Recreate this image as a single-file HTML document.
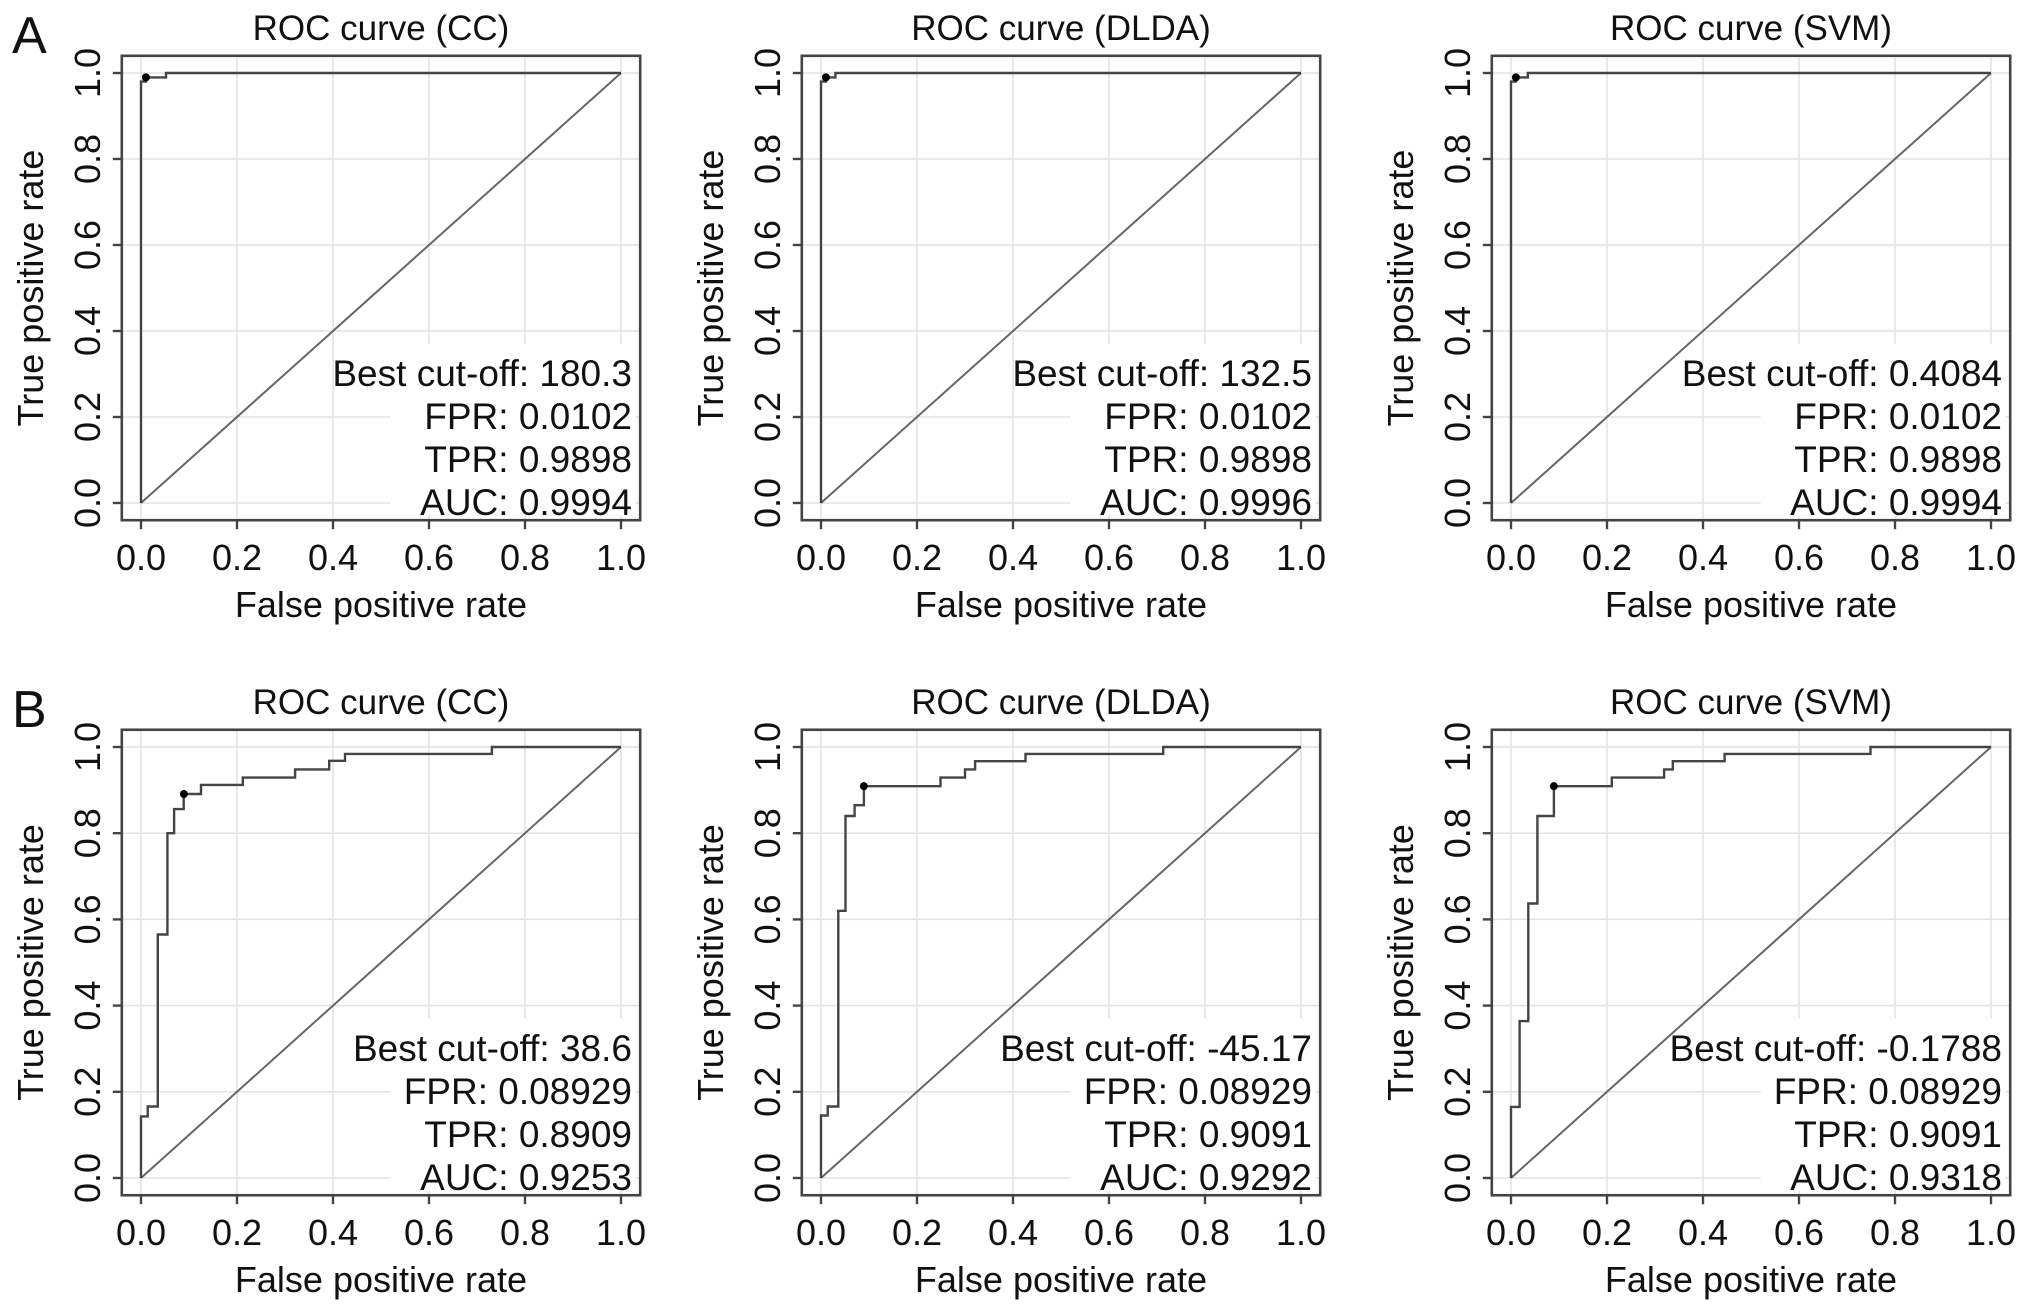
<!DOCTYPE html>
<html><head><meta charset="utf-8"><style>
html,body{margin:0;padding:0;background:#fff;}
svg{display:block;font-family:"Liberation Sans",Arial,sans-serif;}
</style></head><body>
<svg id="fig" width="2031" height="1313" viewBox="0 0 2031 1313" xmlns="http://www.w3.org/2000/svg"></svg>
<script>
const xTicks=[0,0.2,0.4,0.6,0.8,1.0];
const yTicks=[0,0.2,0.4,0.6,0.8,1.0];
const tickLabels=["0.0","0.2","0.4","0.6","0.8","1.0"];
const titles=["ROC curve (CC)","ROC curve (DLDA)","ROC curve (SVM)"];
// Row A curves
const fprA_CC=[0,0,0.0102,0.0102,0.052,0.052,1];
const tprA_CC=[0,0.98,0.98,0.9898,0.9898,1,1];
const fprA_DLDA=[0,0,0.0102,0.0102,0.03,0.03,1];
const tprA_DLDA=[0,0.98,0.98,0.9898,0.9898,1,1];
const fprA_SVM=[0,0,0.0102,0.0102,0.035,0.035,1];
const tprA_SVM=[0,0.98,0.98,0.9898,0.9898,1,1];
// Row B curves
const fprB_CC=[0,0,0.014,0.014,0.035,0.035,0.055,0.055,0.069,0.069,0.089,0.089,0.125,0.125,0.212,0.212,0.321,0.321,0.392,0.392,0.425,0.425,0.731,0.731,1];
const tprB_CC=[0,0.143,0.143,0.166,0.166,0.565,0.565,0.80,0.80,0.856,0.856,0.8909,0.8909,0.912,0.912,0.929,0.929,0.948,0.948,0.968,0.968,0.984,0.984,1,1];
const fprB_DLDA=[0,0,0.014,0.014,0.036,0.036,0.051,0.051,0.07,0.07,0.0893,0.0893,0.249,0.249,0.30,0.30,0.321,0.321,0.426,0.426,0.713,0.713,1];
const tprB_DLDA=[0,0.145,0.145,0.166,0.166,0.62,0.62,0.84,0.84,0.865,0.865,0.9091,0.9091,0.929,0.929,0.948,0.948,0.967,0.967,0.984,0.984,1,1];
const fprB_SVM=[0,0,0.018,0.018,0.036,0.036,0.055,0.055,0.0893,0.0893,0.21,0.21,0.319,0.319,0.337,0.337,0.445,0.445,0.749,0.749,1];
const tprB_SVM=[0,0.165,0.165,0.364,0.364,0.637,0.637,0.84,0.84,0.9091,0.9091,0.929,0.929,0.948,0.948,0.967,0.967,0.984,0.984,1,1];
const bestFpr=[0.0102,0.0102,0.0102,0.0893,0.0893,0.0893];
const bestTpr=[0.9898,0.9898,0.9898,0.8909,0.9091,0.9091];
const annotations=[
 ["Best cut-off: 180.3","FPR: 0.0102","TPR: 0.9898","AUC: 0.9994"],
 ["Best cut-off: 132.5","FPR: 0.0102","TPR: 0.9898","AUC: 0.9996"],
 ["Best cut-off: 0.4084","FPR: 0.0102","TPR: 0.9898","AUC: 0.9994"],
 ["Best cut-off: 38.6","FPR: 0.08929","TPR: 0.8909","AUC: 0.9253"],
 ["Best cut-off: -45.17","FPR: 0.08929","TPR: 0.9091","AUC: 0.9292"],
 ["Best cut-off: -0.1788","FPR: 0.08929","TPR: 0.9091","AUC: 0.9318"]];
const curvesX=[fprA_CC,fprA_DLDA,fprA_SVM,fprB_CC,fprB_DLDA,fprB_SVM];
const curvesY=[tprA_CC,tprA_DLDA,tprA_SVM,tprB_CC,tprB_DLDA,tprB_SVM];

const NS="http://www.w3.org/2000/svg";
const svg=document.getElementById('fig');
function mk(tag,attrs,parent,txt){const e=document.createElementNS(NS,tag);for(const k in attrs)e.setAttribute(k,attrs[k]);if(txt!==undefined)e.textContent=txt;(parent||svg).appendChild(e);return e;}

const colX0=[141,821,1511];
const W=480;
const rowY1=[73,747], rowY0=[503,1178];

for(let p=0;p<6;p++){
  const r=Math.floor(p/3), c=p%3;
  const x0=colX0[c], x1=x0+W, yb=rowY0[r], yt=rowY1[r], H=yb-yt;
  const sx=v=>x0+v*W, sy=v=>yb-v*H;
  const g=mk('g',{});
  
  
  const gridG=mk('g',{},g);
  
  
  xTicks.forEach(v=>{const l=mk('line',{x1:sx(v),x2:sx(v),y1:sy(-0.04),y2:sy(1.04),stroke:'#e2e2e2','stroke-width':1.5},gridG);});
  yTicks.forEach(v=>{const l=mk('line',{x1:sx(-0.04),x2:sx(1.04),y1:sy(v),y2:sy(v),stroke:'#e2e2e2','stroke-width':1.5},gridG);});
  const bg=mk('rect',{x:sx(0.52),y:sy(0.37),width:sx(1.03)-sx(0.52),height:sy(-0.03)-sy(0.37),fill:'#fff'},g);
  
  
  const diag=mk('line',{x1:sx(0),y1:sy(0),x2:sx(1),y2:sy(1),stroke:'#666','stroke-width':2},g);
  
  
  const xs=curvesX[p], ys=curvesY[p];
  let d='';
  for(let i=0;i<xs.length;i++) d+=(i?'L':'M')+sx(xs[i]).toFixed(1)+','+sy(ys[i]).toFixed(1);
  const path=mk('path',{d:d,fill:'none',stroke:'#444','stroke-width':2.4,'stroke-linejoin':'miter'},g);
  
  
  const dot=mk('circle',{cx:sx(bestFpr[p]),cy:sy(bestTpr[p]),r:4,fill:'#000'},g);
  
  
  const box=mk('rect',{x:sx(-0.04),y:sy(1.04),width:sx(1.04)-sx(-0.04),height:sy(-0.04)-sy(1.04),fill:'none',stroke:'#444','stroke-width':2.6},g);
  
  
  const bY=sy(-0.04);
  xTicks.forEach((v,i)=>{
    const t=mk('line',{x1:sx(v),x2:sx(v),y1:bY,y2:bY+9,stroke:'#444','stroke-width':2.4},g);
    
    
    const tl=mk('text',{x:sx(v),y:bY+50,'font-size':36,'text-anchor':'middle',fill:'#111'},g,tickLabels[i]);
    
    
  });
  const lX=sx(-0.04);
  yTicks.forEach((v,i)=>{
    const t=mk('line',{x1:lX-9,x2:lX,y1:sy(v),y2:sy(v),stroke:'#444','stroke-width':2.4},g);
    
    
    const tx=lX-22, ty=sy(v);
    const tl=mk('text',{x:tx,y:ty,'font-size':36,'text-anchor':'middle',fill:'#111',transform:`rotate(-90 ${tx} ${ty})`},g,tickLabels[i]);
    
    
  });
  const xt=mk('text',{x:(x0+x1)/2,y:bY+97,'font-size':36,'text-anchor':'middle',fill:'#111'},g,'False positive rate');
  
  
  const ytx=lX-79, yty=(yt+yb)/2;
  const yTl=mk('text',{x:ytx,y:yty,'font-size':36,'text-anchor':'middle',fill:'#111',transform:`rotate(-90 ${ytx} ${yty})`},g,'True positive rate');
  
  
  const tt=mk('text',{x:(x0+x1)/2,y:sy(1.04)-16,'font-size':35,'text-anchor':'middle',fill:'#111'},g,titles[c]);
  
  
  annotations[p].forEach((s,i)=>{
    const a=mk('text',{x:x1+11,y:sy(0)-117+i*43,'font-size':37,'text-anchor':'end',fill:'#111'},g,s);
    
    
  });
}
const la=mk('text',{x:12,y:53,'font-size':52,fill:'#111'},svg,'A');


const lb=mk('text',{x:12,y:727,'font-size':52,fill:'#111'},svg,'B');


</script>
</body></html>
